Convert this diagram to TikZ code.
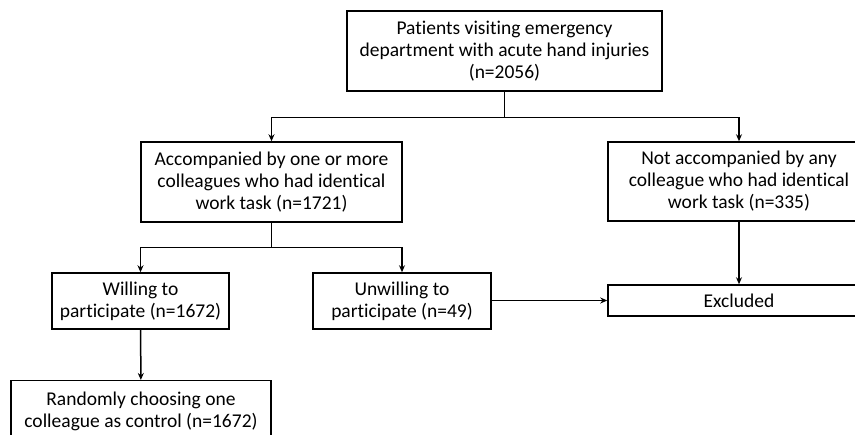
\documentclass[tikz,border=0pt]{standalone}
\usepackage{fontspec}
\setmainfont{Carlito}[Ligatures=NoCommon]
\usetikzlibrary{arrows.meta}

\tikzset{
    box/.style={draw, line width=1.5pt, align=center, inner sep=1pt,
        font=\fontsize{19.5}{22}\selectfont},
    arr/.style={line width=1.5pt, -{Stealth[length=7pt,width=6pt]}}
}

\begin{document}
\begin{tikzpicture}[x=1pt, y=-1pt]
    \clip (0,0) rectangle (855,435);
    \fill[white] (0,0) rectangle (855,435);

    % boxes
    \node[box, minimum width=315pt, minimum height=80pt] (top) at (504.5,51)
        {Patients visiting emergency\\department with acute hand injuries\\(n=2056)};
    \node[box, minimum width=261pt, minimum height=80pt] (accomp) at (271.5,182)
        {Accompanied by one or more\\colleagues who had identical\\work task (n=1721)};
    \node[box, minimum width=262pt, minimum height=79pt] (notacc) at (739,181.5)
        {Not accompanied by any\\colleague who had identical\\work task (n=335)};
    \node[box, minimum width=177pt, minimum height=56pt] (willing) at (140.5,301)
        {Willing to\\participate (n=1672)};
    \node[box, minimum width=178pt, minimum height=56pt] (unwilling) at (402,301)
        {Unwilling to\\participate (n=49)};
    \node[box, minimum width=262pt, minimum height=31pt] (excluded) at (739,300.5)
        {Excluded};
    \node[box, minimum width=260pt, minimum height=62pt, anchor=north] (random) at (141,380)
        {Randomly choosing one\\colleague as control (n=1672)};

    % connectors
    \draw[line width=1.5pt] (top.south) -- ++(0,26) coordinate (split1);
    \draw[arr] (split1) -| (accomp.north);
    \draw[arr] (split1) -| (notacc.north);

    \draw[line width=1.5pt] (accomp.south) -- ++(0,25) coordinate (split2);
    \draw[arr] (split2) -| (willing.north);
    \draw[arr] (split2) -| (unwilling.north);

    \draw[arr] (willing) -- (random);
    \draw[arr] (notacc) -- (excluded);
    \draw[arr] (unwilling.east |- excluded.west) -- (excluded.west);

\end{tikzpicture}
\end{document}
